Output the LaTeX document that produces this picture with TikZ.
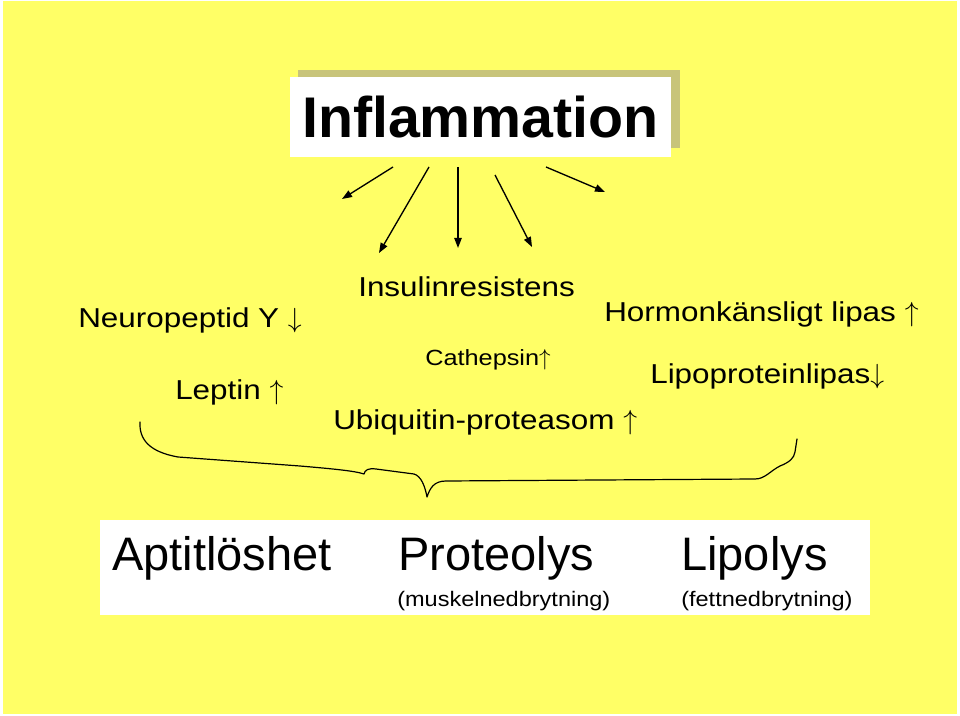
\documentclass[tikz,border=0pt]{standalone}
\usepackage{fontspec}
\setmainfont{Liberation Sans}
\newfontfamily\medfont[FakeStretch=1.15]{Liberation Sans}
\newfontfamily\subfont[FakeStretch=1.12]{Liberation Sans}
\usetikzlibrary{arrows.meta}
\definecolor{bgyellow}{RGB}{255,255,102}
\definecolor{shadowcol}{RGB}{200,196,122}
\newcommand{\upar}{$\uparrow$}
\newcommand{\dnar}{$\downarrow$}
\tikzset{
  lbl/.style={inner sep=0pt, anchor=base west, font=\medfont\fontsize{20.5}{24}\selectfont},
  smlbl/.style={inner sep=0pt, anchor=base west, font=\medfont\fontsize{16.5}{20}\selectfont},
  biglbl/.style={inner sep=0pt, anchor=base west, font=\fontsize{35.25}{40}\selectfont},
  sublbl/.style={inner sep=0pt, anchor=base west, font=\subfont\fontsize{15.75}{19}\selectfont},
  ray/.style={line width=1pt, -{Triangle[length=7.5pt,width=5.5pt]}},
  bracepath/.style={line width=0.9pt, line join=round, line cap=round},
}
\begin{document}
\begin{tikzpicture}[x=0.75pt,y=-0.75pt]
\useasboundingbox (0,0) rectangle (960,716);
\fill[white] (0,0) rectangle (960,716);
\fill[bgyellow] (3,1) rectangle (957,714);

% title with shadow
\fill[shadowcol] (298,70) rectangle (680,148);
\node[fill=white, inner sep=0pt, minimum width=285.75pt, minimum height=60pt,
      font=\bfseries\fontsize{43}{47}\selectfont] (title) at (480.5,117) {Inflammation};

% arrow end points
\coordinate (s1) at (393,167); \coordinate (e1) at (342,199);
\coordinate (s2) at (429,167); \coordinate (e2) at (379,253);
\coordinate (s3) at (458,167); \coordinate (e3) at (458,248);
\coordinate (s4) at (495,175); \coordinate (e4) at (532,247);
\coordinate (s5) at (546,167); \coordinate (e5) at (605,192);
\draw[ray] (s1) -- (e1);
\draw[ray] (s2) -- (e2);
\draw[ray] (s3) -- (e3);
\draw[ray] (s4) -- (e4);
\draw[ray] (s5) -- (e5);

% labels
\node[lbl] (npy) at (78,328) {Neuropeptid Y \dnar};
\node[lbl] (lep) at (175,400) {Leptin \upar};
\node[lbl] (ins) at (358,297) {Insulinresistens};
\node[lbl] (hsl) at (604,322) {Hormonkänsligt lipas \upar};
\node[lbl] (lpl) at (650,383) {Lipoproteinlipas\dnar};
\node[smlbl] (cat) at (425,366) {Cathepsin\upar};
\node[lbl] (ubi) at (333,429) {Ubiquitin-proteasom \upar};

% brace
\draw[bracepath] (140,422) .. controls (139,440) and (150,452) .. (178,457)
  -- (300,466) .. controls (335,469) and (355,471) .. (364,474)
  .. controls (365,470) and (368,468) .. (376,469)
  -- (414,474) .. controls (421,476) and (425,486) .. (427,497)
  .. controls (430,488) and (434,481) .. (446,481)
  -- (755,479) .. controls (765,479) and (770,471) .. (780,466)
  .. controls (790,462) and (794,458) .. (795,452) -- (797,439);

% result box
\fill[white] (100,520) rectangle (870,615);
\node[biglbl] (apt) at (112,570) {Aptitlöshet};
\node[biglbl] (pro) at (398,570) {Proteolys};
\node[biglbl] (lip) at (681,570) {Lipolys};
\node[sublbl] (prosub) at (397,606) {(muskelnedbrytning)};
\node[sublbl] (lipsub) at (681,606) {(fettnedbrytning)};
\end{tikzpicture}
\end{document}
